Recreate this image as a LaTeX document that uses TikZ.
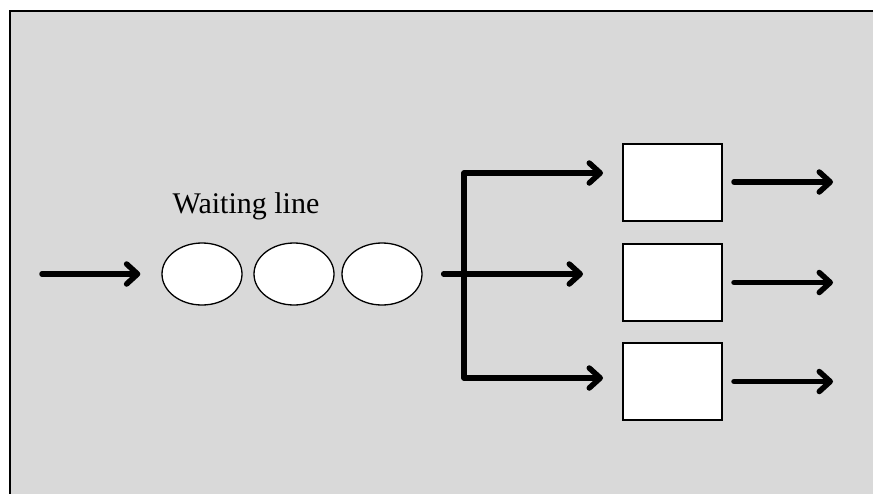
\documentclass[tikz,border=0pt]{standalone}
\usepackage{fontspec}
\setmainfont{Liberation Serif}
\usetikzlibrary{arrows.meta,shapes.geometric}
\definecolor{panel}{RGB}{217,217,217}

\begin{document}
\begin{tikzpicture}[x=1pt,y=-1pt,
  flow/.style={line width=5.5pt,line cap=round,line join=round,
    -{Straight Barb[length=11pt,width=20pt,line cap=round,line join=round]}},
  cust/.style={ellipse,draw,line width=1.3pt,fill=white,minimum width=80pt,minimum height=62pt,inner sep=0pt},
  server/.style={rectangle,draw,line width=2pt,fill=white,minimum width=99pt,minimum height=77pt,inner sep=0pt}]
\path[use as bounding box] (0,0) rectangle (873,493);
\begin{scope}
\clip (0,0) rectangle (873,493);
\draw[line width=2pt,fill=panel] (10,11) rectangle (890,510);
\end{scope}
% customers in the queue
\node[cust] (q1) at (202,274) {};
\node[cust] (q2) at (294,274) {};
\node[cust] (q3) at (382,274) {};
\node[anchor=base,font=\fontsize{30}{33}\selectfont] (lbl) at (246,213) {Waiting line};
% servers
\node[server] (s1) at (672.5,182) {};
\node[server] (s2) at (672.5,282.5) {};
\node[server] (s3) at (672.5,381.5) {};
% arrivals
\coordinate (in) at (42,274);
\draw[flow,shorten >=21pt] (in) -- (q1.west);
% split to the servers
\coordinate (fork) at (464,274);
\coordinate (top) at (603,173);
\coordinate (bot) at (603,378);
\draw[flow,shorten <=21pt,shorten >=39pt] (q3.east) -- (q3.east -| s2.west);
\draw[flow] (fork) |- (top);
\draw[flow] (fork) |- (bot);
% departures
\foreach \s in {s1,s2,s3}
  \draw[flow,shorten <=11pt] (\s.east) -- ++(110,0);
\end{tikzpicture}
\end{document}
